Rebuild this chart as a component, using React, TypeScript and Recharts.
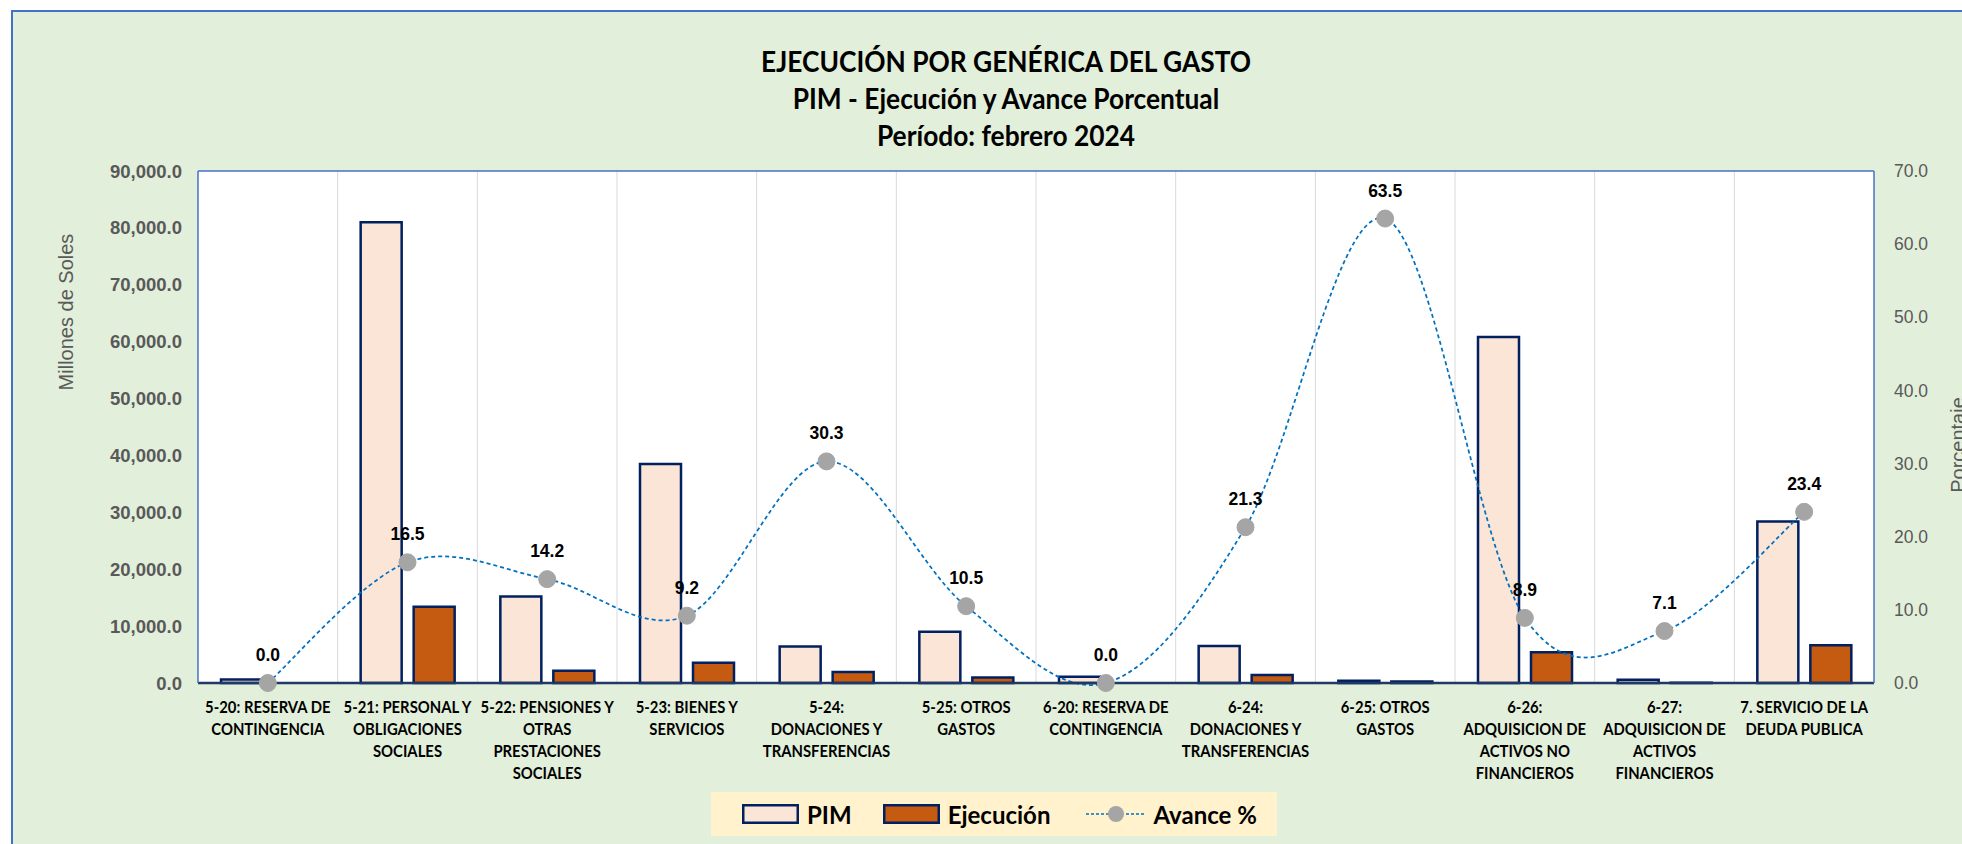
import React from 'react';
import {
  ComposedChart,
  Bar,
  Line,
  XAxis,
  YAxis,
  CartesianGrid,
  Legend,
  LabelList,
  ReferenceLine,
} from 'recharts';

const categories = [
  '5-20: RESERVA DE\nCONTINGENCIA',
  '5-21: PERSONAL Y\nOBLIGACIONES\nSOCIALES',
  '5-22: PENSIONES Y\nOTRAS\nPRESTACIONES\nSOCIALES',
  '5-23: BIENES Y\nSERVICIOS',
  '5-24:\nDONACIONES Y\nTRANSFERENCIAS',
  '5-25: OTROS\nGASTOS',
  '6-20: RESERVA DE\nCONTINGENCIA',
  '6-24:\nDONACIONES Y\nTRANSFERENCIAS',
  '6-25: OTROS\nGASTOS',
  '6-26:\nADQUISICION DE\nACTIVOS NO\nFINANCIEROS',
  '6-27:\nADQUISICION DE\nACTIVOS\nFINANCIEROS',
  '7. SERVICIO DE LA\nDEUDA PUBLICA',
];

// millones de soles
const pim = [600, 81000, 15200, 38500, 6400, 9000, 1100, 6500, 400, 60800, 550, 28400];
const ejecucion = [0, 13400, 2160, 3540, 1940, 950, 0, 1390, 250, 5410, 40, 6650];
// porcentaje
const avance = [0.0, 16.5, 14.2, 9.2, 30.3, 10.5, 0.0, 21.3, 63.5, 8.9, 7.1, 23.4];

const leftTicks = [0, 10000, 20000, 30000, 40000, 50000, 60000, 70000, 80000, 90000];
const rightTicks = [0, 10, 20, 30, 40, 50, 60, 70];

const titleLines = ['EJECUCIÓN POR GENÉRICA DEL GASTO', 'PIM - Ejecución y Avance Porcentual', 'Período: febrero 2024'];

const data = categories.map((cat, i) => ({
  cat,
  pim: pim[i],
  ejecucion: ejecucion[i],
  avance: avance[i],
}));

const LABEL_FONT = 'Lato, "Open Sans", sans-serif';
const SANS = '"Liberation Sans", Arial, sans-serif';
const NAVY = '#002060';
const PIM_FILL = '#FBE5D6';
const EJEC_FILL = '#C55A11';
const LINE_BLUE = '#0070C0';
const DOT_GRAY = '#A5A5A5';
const AXIS_GRAY = '#595959';

// Excel-like smoothed line (catmull-rom through the points)
function excelSmooth(context: any) {
  let pts: [number, number][] = [];
  return {
    areaStart() {},
    areaEnd() {},
    lineStart() {
      pts = [];
    },
    lineEnd() {
      if (!pts.length) return;
      context.moveTo(pts[0][0], pts[0][1]);
      for (let i = 0; i < pts.length - 1; i++) {
        const p0 = pts[i - 1] || pts[i];
        const p1 = pts[i];
        const p2 = pts[i + 1];
        const p3 = pts[i + 2] || p2;
        context.bezierCurveTo(
          p1[0] + (p2[0] - p0[0]) / 6,
          p1[1] + (p2[1] - p0[1]) / 6,
          p2[0] - (p3[0] - p1[0]) / 6,
          p2[1] - (p3[1] - p1[1]) / 6,
          p2[0],
          p2[1]
        );
      }
    },
    point(x: number, y: number) {
      pts.push([x, y]);
    },
  };
}

function CategoryTick({ x, y, payload }: any) {
  const lines = String(payload.value).split('\n');
  return (
    <text
      transform={`translate(${x},${y}) scale(0.9,1)`}
      textAnchor="middle"
      fill="#000"
      fontFamily={LABEL_FONT}
      fontWeight={700}
      fontSize={16.5}
    >
      {lines.map((l, i) => (
        <tspan key={i} x={0} dy={i === 0 ? 30 : 22}>
          {l}
        </tspan>
      ))}
    </text>
  );
}

const renderLegend = () => (
  <div
    style={{
      display: 'flex',
      alignItems: 'center',
      height: 44,
      background: '#FFF2CC',
      paddingLeft: 31,
      fontFamily: LABEL_FONT,
      fontWeight: 700,
      fontSize: 24,
      color: '#000',
      whiteSpace: 'nowrap',
      boxSizing: 'border-box',
    }}
  >
    <svg width={57} height={20}>
      <rect x={1.25} y={1.25} width={54.5} height={17.5} fill={PIM_FILL} stroke={NAVY} strokeWidth={2.5} />
    </svg>
    <span style={{ marginLeft: 8 }}>PIM</span>
    <svg width={57} height={20} style={{ marginLeft: 31 }}>
      <rect x={1.25} y={1.25} width={54.5} height={17.5} fill={EJEC_FILL} stroke={NAVY} strokeWidth={2.5} />
    </svg>
    <span style={{ marginLeft: 8 }}>Ejecución</span>
    <svg width={60} height={20} style={{ marginLeft: 36 }}>
      <line x1={0} y1={10} x2={60} y2={10} stroke={LINE_BLUE} strokeWidth={1.5} strokeDasharray="3 2" />
      <circle cx={30} cy={10} r={8} fill={DOT_GRAY} />
    </svg>
    <span style={{ marginLeft: 7 }}>Avance %</span>
  </div>
);

export default function App() {
  return (
    <div style={{ position: 'absolute', left: 0, top: 0, width: 1962, height: 844, overflow: 'hidden', background: '#fff' }}>
      <div
        style={{
          position: 'absolute',
          left: 11,
          top: 10,
          width: 2000,
          height: 900,
          background: '#E2EFDA',
          border: '2px solid #4472C4',
        }}
      />
      <div
        style={{
          position: 'absolute',
          left: 0,
          top: 43,
          width: 2012,
          textAlign: 'center',
          fontFamily: LABEL_FONT,
          fontWeight: 700,
          fontSize: 28,
          lineHeight: '37px',
          color: '#000',
          transform: 'scaleX(0.94)',
          transformOrigin: '1006px 0',
        }}
      >
        {titleLines.map((t) => (
          <div key={t}>{t}</div>
        ))}
      </div>
      <div style={{ position: 'absolute', left: 0, top: 0 }}>
        <ComposedChart
          width={1962}
          height={844}
          data={data}
          margin={{ top: 171, right: 0, bottom: 0, left: 0 }}
          barSize={41}
          barGap={12}
        >
          <CartesianGrid
            horizontal={false}
            stroke="#D9D9D9"
            fill="#FFFFFF"
            fillOpacity={1}
            verticalCoordinatesGenerator={({ offset }: any) =>
              categories.slice(1).map((_, i) => offset.left + ((i + 1) * offset.width) / categories.length)
            }
          />
          <XAxis
            dataKey="cat"
            interval={0}
            height={161}
            tickSize={0}
            tickMargin={0}
            tick={<CategoryTick />}
            axisLine={{ stroke: '#1F3864', strokeWidth: 2.5 }}
          />
          <YAxis
            yAxisId="left"
            width={198}
            domain={[0, 90000]}
            ticks={leftTicks}
            tickSize={0}
            tickMargin={16}
            tickLine={false}
            axisLine={{ stroke: '#4472C4', strokeWidth: 1.5 }}
            tick={{ fill: AXIS_GRAY, fontFamily: SANS, fontWeight: 700, fontSize: 18.5 }}
            tickFormatter={(v: number) =>
              v.toLocaleString('en-US', { minimumFractionDigits: 1, maximumFractionDigits: 1 })
            }
            label={{
              content: () => (
                <text
                  x={73}
                  y={312}
                  transform="rotate(-90 73 312)"
                  textAnchor="middle"
                  fill={AXIS_GRAY}
                  fontFamily={SANS}
                  fontSize={20}
                >
                  Millones de Soles
                </text>
              ),
            }}
          />
          <YAxis
            yAxisId="right"
            orientation="right"
            width={88}
            domain={[0, 70]}
            ticks={rightTicks}
            tickSize={0}
            tickMargin={20}
            tickLine={false}
            axisLine={{ stroke: '#4472C4', strokeWidth: 1.5 }}
            tick={{ fill: AXIS_GRAY, fontFamily: SANS, fontSize: 17.5 }}
            tickFormatter={(v: number) => v.toFixed(1)}
            label={{
              content: () => (
                <text
                  x={1965}
                  y={445}
                  transform="rotate(-90 1965 445)"
                  textAnchor="middle"
                  fill={AXIS_GRAY}
                  fontFamily={SANS}
                  fontSize={20}
                >
                  Porcentaje
                </text>
              ),
            }}
          />
          <ReferenceLine yAxisId="left" y={90000} stroke="#4472C4" strokeWidth={1.5} />
          <Bar
            yAxisId="left"
            dataKey="pim"
            name="PIM"
            fill={PIM_FILL}
            stroke={NAVY}
            strokeWidth={2.5}
            isAnimationActive={false}
          />
          <Bar
            yAxisId="left"
            dataKey="ejecucion"
            name="Ejecución"
            fill={EJEC_FILL}
            stroke={NAVY}
            strokeWidth={2.5}
            isAnimationActive={false}
          />
          <Line
            yAxisId="right"
            dataKey="avance"
            name="Avance %"
            type={excelSmooth as any}
            stroke={LINE_BLUE}
            strokeWidth={1.75}
            strokeDasharray="4 3"
            dot={{ r: 8.5, fill: DOT_GRAY, stroke: DOT_GRAY, strokeWidth: 1, strokeDasharray: '0' }}
            activeDot={false}
            isAnimationActive={false}
          >
            <LabelList
              dataKey="avance"
              position="top"
              offset={22}
              formatter={(v: any) => Number(v).toFixed(1)}
              style={{ fill: '#000', fontFamily: SANS, fontWeight: 700, fontSize: 17.5 }}
            />
          </Line>
          <Legend
            layout="horizontal"
            verticalAlign="middle"
            align="center"
            content={renderLegend}
            wrapperStyle={{ left: 711, top: 792, width: 566, height: 44 }}
          />
        </ComposedChart>
      </div>
    </div>
  );
}
